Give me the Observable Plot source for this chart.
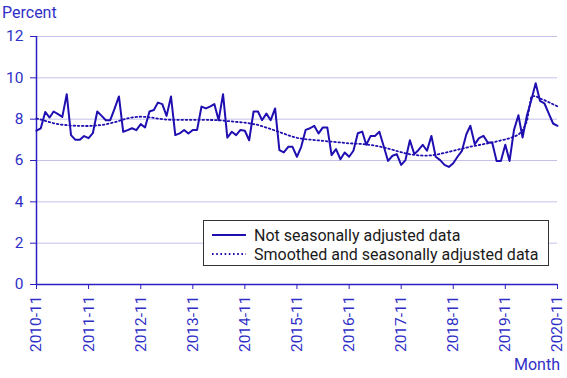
<!DOCTYPE html>
<html>
<head>
<meta charset="utf-8">
<script src="https://cdn.jsdelivr.net/npm/d3@7"></script>
<script src="https://cdn.jsdelivr.net/npm/@observablehq/plot@0.6"></script>
<style>
  html, body { margin: 0; padding: 0; background: #fff; }
  #wrap { position: relative; width: 567px; height: 378px; font-family: Roboto, "Noto Sans", sans-serif; }
  #legend { position: absolute; left: 203px; top: 220px; width: 344px; height: 44px; border: 1px solid #333; background: #fff; box-sizing: content-box; }
  .row { position: absolute; left: 8px; height: 20px; display: flex; align-items: center; font-size: 16px; color: #1a1a1a; white-space: nowrap; }
  .row svg { margin-right: 8px; }
  #ylab { position: absolute; left: 2px; top: 3px; font-size: 16px; color: #2f2fc8; }
  #xlab { position: absolute; right: 7px; top: 355px; font-size: 16px; color: #2f2fc8; }
</style>
</head>
<body>
<div id="wrap">
  <div id="chart"></div>
  <div id="ylab">Percent</div>
  <div id="xlab">Month</div>
  <div id="legend">
    <div class="row" style="top:4px"><svg width="34" height="6"><line x1="0" y1="3" x2="34" y2="3" stroke="#1f0fb0" stroke-width="2"/></svg>Not seasonally adjusted data</div>
    <div class="row" style="top:23px"><svg width="34" height="6"><line x1="0" y1="3" x2="34" y2="3" stroke="#1f0fb0" stroke-width="1.8" stroke-dasharray="1.6 2.6"/></svg>Smoothed and seasonally adjusted data</div>
  </div>
</div>
<script>
const startMonth = "2010-11";
const tickLabels = ["2010-11","2011-11","2012-11","2013-11","2014-11","2015-11","2016-11","2017-11","2018-11","2019-11","2020-11"];
const yTicks = [0, 2, 4, 6, 8, 10, 12];

const notAdjusted = [
  7.44, 7.56, 8.35, 8.08, 8.37, 8.24, 8.11, 9.21, 7.23, 7.00, 7.00, 7.18,
  7.08, 7.32, 8.37, 8.16, 7.95, 7.95, 8.50, 9.10, 7.39, 7.47, 7.56, 7.47,
  7.76, 7.60, 8.37, 8.44, 8.80, 8.73, 8.16, 9.10, 7.23, 7.31, 7.48, 7.31,
  7.48, 7.48, 8.61, 8.52, 8.61, 8.73, 7.95, 9.21, 7.11, 7.39, 7.23, 7.48,
  7.44, 6.98, 8.37, 8.37, 7.95, 8.27, 7.95, 8.52, 6.50, 6.39, 6.66, 6.66,
  6.18, 6.66, 7.48, 7.56, 7.68, 7.31, 7.60, 7.60, 6.26, 6.55, 6.06, 6.39,
  6.18, 6.47, 7.32, 7.40, 6.76, 7.19, 7.19, 7.39, 6.70, 5.98, 6.23, 6.31,
  5.79, 6.02, 6.98, 6.31, 6.50, 6.76, 6.47, 7.19, 6.18, 6.02, 5.79, 5.69,
  5.87, 6.18, 6.47, 7.27, 7.68, 6.79, 7.08, 7.19, 6.87, 6.87, 5.98, 5.98,
  6.76, 5.98, 7.48, 8.19, 7.11, 8.19, 8.92, 9.74, 8.89, 8.77, 8.27, 7.79,
  7.68
];

const smoothed = [
  8.03, 7.98, 7.92, 7.86, 7.80, 7.76, 7.73, 7.71, 7.69, 7.68, 7.68, 7.67,
  7.67, 7.68, 7.70, 7.72, 7.75, 7.80, 7.85, 7.92, 7.98, 8.04, 8.08, 8.11,
  8.12, 8.11, 8.09, 8.06, 8.03, 8.00, 7.98, 7.97, 7.97, 7.97, 7.97, 7.97,
  7.97, 7.97, 7.97, 7.97, 7.96, 7.96, 7.95, 7.93, 7.91, 7.89, 7.87, 7.85,
  7.83, 7.80, 7.76, 7.72, 7.66, 7.59, 7.52, 7.45, 7.38, 7.30, 7.22, 7.15,
  7.10, 7.06, 7.03, 7.01, 6.99, 6.97, 6.95, 6.93, 6.91, 6.89, 6.87, 6.85,
  6.83, 6.82, 6.81, 6.80, 6.78, 6.75, 6.72, 6.68, 6.63, 6.58, 6.52, 6.46,
  6.40, 6.35, 6.30, 6.27, 6.25, 6.24, 6.24, 6.25, 6.28, 6.32, 6.37, 6.42,
  6.47, 6.52, 6.57, 6.62, 6.67, 6.71, 6.75, 6.79, 6.83, 6.87, 6.92, 6.97,
  7.02, 7.08, 7.15, 7.25, 7.45, 7.90, 9.10, 9.12, 9.00, 8.92, 8.82, 8.72,
  8.62
];

const parse = d3.utcParse("%Y-%m");
const fmt = d3.utcFormat("%Y-%m");
const start = parse(startMonth);
const rows = notAdjusted.map((v, i) => ({date: d3.utcMonth.offset(start, i), nsa: v, sa: smoothed[i]}));
const tickDates = tickLabels.map(parse);

const lineColor = "#1f0fb0";
const axisColor = "#2a1fc0";
const textColor = "#2f2fc8";

const chart = Plot.plot({
  width: 567,
  height: 378,
  marginTop: 36,
  marginRight: 10,
  marginBottom: 94,
  marginLeft: 36,
  style: {fontFamily: "Roboto, 'Noto Sans', sans-serif", fontSize: "14px", background: "#fff"},
  x: {type: "utc", domain: [tickDates[0], tickDates[tickDates.length - 1]]},
  y: {domain: [0, 12]},
  marks: [
    Plot.gridY(yTicks.filter(d => d > 0), {stroke: "#c4c0ea", strokeOpacity: 1, strokeWidth: 1}),
    Plot.axisY({ticks: yTicks, tickSize: 6, tickPadding: 7, stroke: axisColor, fill: textColor, fontSize: 15.5, label: null}),
    Plot.axisX({ticks: tickDates, tickFormat: fmt, tickRotate: -90, tickSize: 5, tickPadding: 6, stroke: axisColor, fill: textColor, fontSize: 15.5, label: null}),
    Plot.ruleY([0], {stroke: axisColor, strokeWidth: 1.5}),
    Plot.ruleX([tickDates[0]], {stroke: axisColor, strokeWidth: 1.5}),
    Plot.line(rows, {x: "date", y: "sa", stroke: lineColor, strokeWidth: 1.8, strokeDasharray: "1.6 2.6"}),
    Plot.line(rows, {x: "date", y: "nsa", stroke: lineColor, strokeWidth: 2})
  ]
});
document.getElementById("chart").appendChild(chart);
</script>
</body>
</html>
